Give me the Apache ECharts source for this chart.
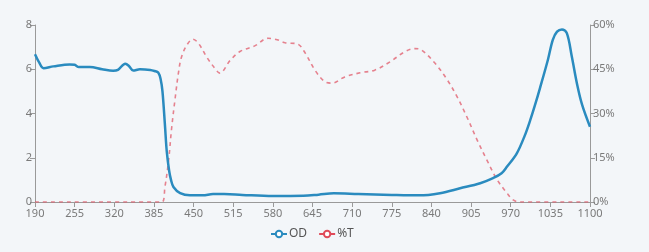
<!DOCTYPE html>
<html>
<head>
<meta charset="utf-8">
<script src="https://cdn.jsdelivr.net/npm/echarts@6/dist/echarts.min.js"></script>
<style>
html,body{margin:0;padding:0;background:#f3f6f9;}
#c{width:649px;height:252px;}
</style>
</head>
<body>
<div id="c"></div>
<script>
var xTicks = [190,255,320,385,450,515,580,645,710,775,840,905,970,1035,1100];
var odWavelength = [190,197,204,220,247,255,262,280,300,318,326,338,344,351,362,379,386,392,396,399,403,406,410,413,417,428,444,465,482,500,530,580,630,655,680,720,775,820,854,887,920,941,955,964,980,993,1002,1010,1018,1031,1039,1046,1054,1062,1070,1079,1087,1100];
var odValues = [6.68,6.3,6.05,6.13,6.22,6.2,6.1,6.1,6.0,5.93,5.97,6.25,6.15,5.94,6.0,5.97,5.92,5.85,5.55,5.0,3.5,2.3,1.4,1.0,0.68,0.4,0.3,0.3,0.36,0.36,0.32,0.27,0.28,0.33,0.39,0.36,0.32,0.3,0.4,0.62,0.85,1.08,1.3,1.6,2.2,3.0,3.7,4.4,5.15,6.43,7.33,7.7,7.8,7.63,6.6,5.3,4.4,3.4];
var tWavelength = [190,398,403,409,414,420,425,430,439,449,458,472,488,493,510,526,551,572,587,600,621,633,649,665,677,698,723,747,772,797,813,824,846,866,882,898,915,931,947,964,974,985,1100];
var tValues = [0,0,5,14,25,35.5,43.5,49,53.2,55.2,53.8,49,44.5,43.7,48,51,53,55.5,55,54,53.5,50.5,44.7,40.8,40.3,42.4,43.8,44.7,47.5,51,52,51.5,47,41.4,35.7,28.9,21,14.2,7.8,3,0.7,0,0];

var x0 = xTicks[0];
var step = xTicks[1] - xTicks[0];
function pairs(xs, ys){ return xs.map(function(x,i){ return [x - x0, ys[i]]; }); }

var axisGray = '#9a9a9a';
var labelGray = '#7a7a7a';
var chart = echarts.init(document.getElementById('c'));
chart.setOption({
  backgroundColor: '#f3f6f9',
  animation: false,
  grid: {left: 35, right: 59, top: 25, bottom: 50},
  legend: {
    bottom: 7, left: 265, itemWidth: 16, itemHeight: 8, itemGap: 11,
    textStyle: {color: '#555', fontSize: 12, fontFamily: 'Noto Sans', padding: [0,0,0,-3]},
    data: [{name:'OD', lineStyle:{type:'solid', width:2}},{name:'%T', lineStyle:{type:'solid', width:2, color:'#e04b5a'}}]
  },
  xAxis: {
    type: 'value', min: 0, max: xTicks[xTicks.length-1] - x0, interval: step,
    axisLine: {lineStyle: {color: axisGray}},
    axisTick: {show: true, length: 5, lineStyle: {color: axisGray}},
    splitLine: {show: false},
    axisLabel: {color: labelGray, fontSize: 11, margin: 6, fontFamily: 'Noto Sans',
      formatter: function(v){ return xTicks[Math.round(v/step)]; }}
  },
  yAxis: [{
    type: 'value', min: 0, max: 8, interval: 2,
    axisLine: {show: true, lineStyle: {color: axisGray}},
    axisTick: {show: true, length: 5, lineStyle: {color: axisGray}},
    splitLine: {show: false},
    axisLabel: {color: labelGray, fontSize: 11, margin: 3, fontFamily: 'Noto Sans'}
  },{
    type: 'value', min: 0, max: 60, interval: 15, position: 'right',
    axisLine: {show: true, lineStyle: {color: axisGray}},
    axisTick: {show: true, length: 5, lineStyle: {color: axisGray}},
    splitLine: {show: false},
    axisLabel: {color: labelGray, fontSize: 11, margin: 3, fontFamily: 'Noto Sans', formatter: '{value}%'}
  }],
  series: [{
    name: 'OD', type: 'line', yAxisIndex: 0, smooth: 0.35, showSymbol: false, symbol: 'emptyCircle', symbolSize: 6,
    color: '#2a8bbf', lineStyle: {width: 2.5, color: '#2a8bbf'},
    data: pairs(odWavelength, odValues), z: 3
  },{
    name: '%T', type: 'line', yAxisIndex: 1, smooth: 0.35, showSymbol: false, symbol: 'emptyCircle', symbolSize: 6,
    color: '#e04b5a', lineStyle: {width: 1.6, type: [4,4], color: 'rgba(224,90,106,0.75)'},
    data: pairs(tWavelength, tValues), z: 2
  }]
});
</script>
</body>
</html>
